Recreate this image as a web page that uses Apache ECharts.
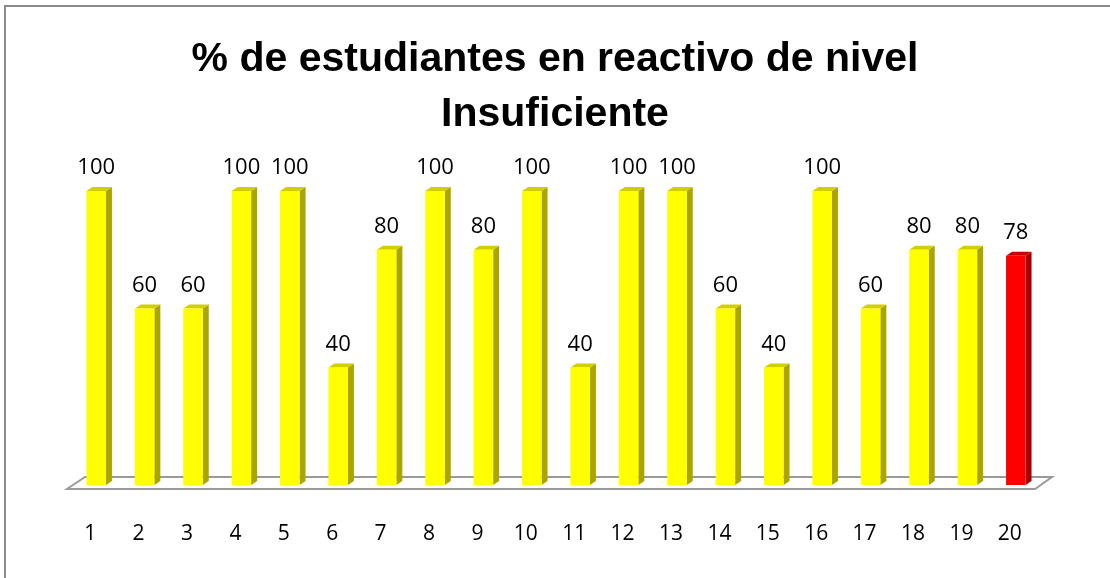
<!DOCTYPE html>
<html>
<head>
<meta charset="utf-8">
<script src="https://cdn.jsdelivr.net/npm/echarts@6/dist/echarts.min.js"></script>
<style>
  html, body { margin: 0; padding: 0; background: #fff; }
  #chart { width: 1110px; height: 578px; }
</style>
</head>
<body>
<div id="chart"></div>
<script>
  // datos del gráfico
  const categories = ['1', '2', '3', '4', '5', '6', '7', '8', '9', '10',
    '11', '12', '13', '14', '15', '16', '17', '18', '19', '20'];
  const values = [100, 60, 60, 100, 100, 40, 80, 100, 80, 100,
    40, 100, 100, 60, 40, 100, 60, 80, 80, 78];
  const highlighted = ['20'];

  const gridLeft = 72, gridRight = 70, gridTop = 191, gridBottom = 93;
  const W = 1110, H = 578;

  const chart = echarts.init(document.getElementById('chart'));

  function renderBar(params, api) {
    const top = api.coord([api.value(0), api.value(1)]);
    const base = api.coord([api.value(0), 0]);
    const w = 19.5, dx = 6, dy = 4;
    const xl = top[0] - w / 2, xr = top[0] + w / 2;
    const red = highlighted.includes(categories[params.dataIndex]);
    const front = red ? '#ff0000' : '#ffff00';
    const side = red ? '#a80000' : '#aaa500';
    const cap = red ? '#c80000' : '#d2ce00';
    return {
      type: 'group',
      children: [
        { type: 'polygon', shape: { points: [[xr, top[1]], [xr + dx, top[1] - dy], [xr + dx, base[1] - dy], [xr, base[1]]] },
          style: { fill: side } },
        { type: 'polygon', shape: { points: [[xl, top[1]], [xl + dx, top[1] - dy], [xr + dx, top[1] - dy], [xr, top[1]]] },
          style: { fill: cap } },
        { type: 'rect', shape: { x: xl, y: top[1], width: w, height: base[1] - top[1] },
          style: { fill: front } },
        { type: 'text', x: top[0], y: top[1] - 23,
          style: { text: String(api.value(1)), fill: '#000', font: '22px "Open Sans"', align: 'center', verticalAlign: 'middle' } }
      ]
    };
  }

  const baseY = H - gridBottom;
  const x0 = gridLeft, x1 = W - gridRight;

  chart.setOption({
    animation: false,
    title: {
      text: '% de estudiantes en reactivo de nivel\nInsuficiente',
      left: 'center',
      top: 27,
      textStyle: { fontFamily: 'Liberation Sans', fontWeight: 'bold', fontSize: 41, lineHeight: 55, color: '#000' }
    },
    graphic: [
      { type: 'polyline', shape: { points: [[5, H], [5, 6], [W, 6]] }, style: { stroke: '#8c8c8c', lineWidth: 2, fill: null }, z: 0 },
      { type: 'polygon', shape: { points: [[x0 - 5, baseY + 4], [x0 + 13, baseY - 8], [x1 + 12, baseY - 8], [x1 - 5, baseY + 4]] },
        style: { fill: '#fff', stroke: '#9a9a9a', lineWidth: 2 }, z: 0 }
    ],
    grid: { left: gridLeft, right: gridRight, top: gridTop, bottom: gridBottom },
    xAxis: {
      type: 'category',
      data: categories,
      axisLine: { show: false },
      axisTick: { show: false },
      axisLabel: { color: '#000', fontSize: 21, fontFamily: 'Open Sans', margin: 39, padding: [0, 12, 0, 0] }
    },
    yAxis: {
      type: 'value', min: 0, max: 100,
      show: false
    },
    series: [{
      type: 'custom',
      z: 5,
      renderItem: renderBar,
      encode: { x: 0, y: 1 },
      data: values.map((v, i) => [i, v])
    }]
  });
</script>
</body>
</html>
